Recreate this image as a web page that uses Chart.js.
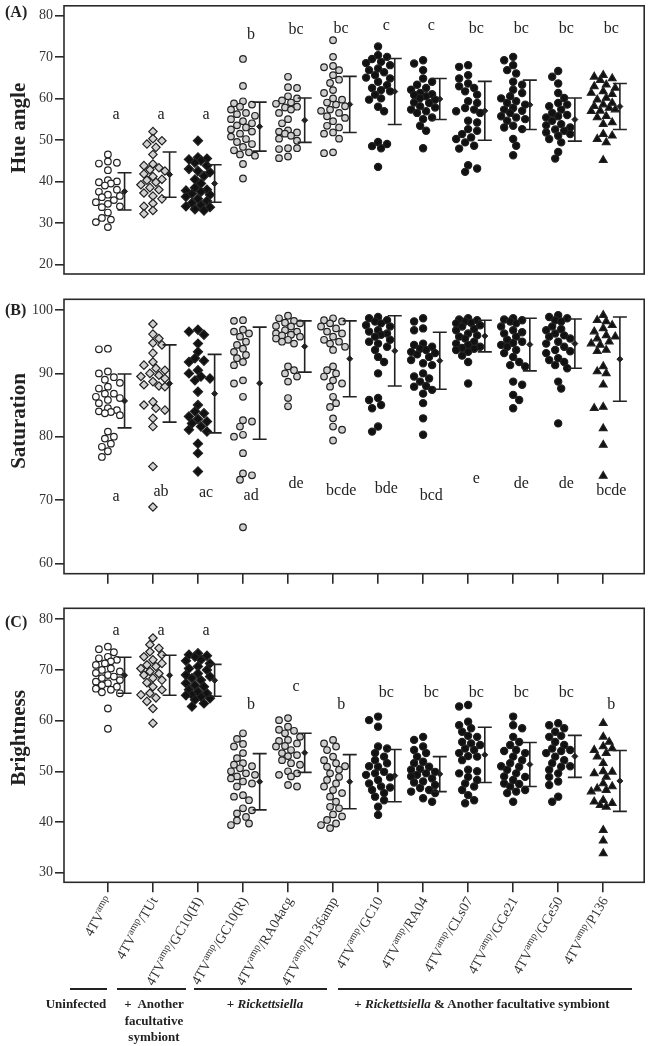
<!DOCTYPE html>
<html><head><meta charset="utf-8">
<script src="https://cdn.jsdelivr.net/npm/chart.js@4.4.0/dist/chart.umd.min.js"></script>
<style>
html,body{margin:0;padding:0;background:#fff;}
#wrap{position:relative;width:650px;height:1046px;overflow:hidden;font-family:"Liberation Serif","Times New Roman",serif;color:#222;}
canvas{position:absolute;left:0;}
.gl{position:absolute;height:0;border-top:2px solid #222;}
.gt{position:absolute;font-weight:bold;font-size:13px;text-align:center;line-height:16.5px;white-space:nowrap;}
</style></head><body>
<div id="wrap">
<canvas id="cA" width="650" height="290" style="top:0;width:650px;height:290px"></canvas>
<canvas id="cB" width="650" height="300" style="top:290px;width:650px;height:300px"></canvas>
<canvas id="cC" width="650" height="456" style="top:590px;width:650px;height:456px"></canvas>
<div class="gl" style="left:70px;width:37px;top:988px"></div>
<div class="gl" style="left:117px;width:69px;top:988px"></div>
<div class="gl" style="left:194px;width:133px;top:988px"></div>
<div class="gl" style="left:338px;width:294px;top:988px"></div>
<div class="gt" style="left:26px;width:100px;top:996px">Uninfected</div>
<div class="gt" style="left:104px;width:100px;top:996px">+&nbsp; Another<br>facultative<br>symbiont</div>
<div class="gt" style="left:185px;width:160px;top:996px">+ <i>Rickettsiella</i></div>
<div class="gt" style="left:332px;width:300px;top:996px">+ <i>Rickettsiella</i> &amp; Another facultative symbiont</div>
</div>
<script>
// ---------------- DATA ----------------
const categories = ['4TVamp','4TVamp/TUt','4TVamp/GC10(H)','4TVamp/GC10(R)','4TVamp/RA04acg','4TVamp/P136amp',
  '4TVamp/GC10','4TVamp/RA04','4TVamp/CLs07','4TVamp/GCe21','4TVamp/GCe50','4TVamp/P136'];
const labelSuffix = ['', '/TUt', '/GC10(H)', '/GC10(R)', '/RA04acg', '/P136amp', '/GC10', '/RA04', '/CLs07', '/GCe21', '/GCe50', '/P136'];

const hueAngle = [
  [46.5,44.8,44.5,44.3,42.7,40.3,40.0,39.8,39.5,39.0,38.0,37.5,36.8,36.5,36.2,35.5,35.0,34.6,34.0,33.8,32.5,31.2,30.8,30.2,29.0],
  [52.0,50.3,49.8,49.0,48.2,46.5,44.2,43.8,43.3,42.8,42.5,41.8,41.2,40.5,40.3,39.8,39.2,38.5,38.0,37.2,36.5,35.8,34.7,34.0,33.0,32.2],
  [49.8,45.8,45.5,45.3,45.0,44.5,43.8,43.0,42.5,42.2,41.3,40.5,39.5,38.5,38.0,37.8,37.5,37.0,36.8,36.3,35.8,35.3,34.8,34.3,34.0,33.8,33.3,33.0],
  [69.5,63.0,59.3,58.8,58.5,58.0,57.3,56.5,56.2,55.8,55.0,54.5,54.0,53.5,53.0,52.5,52.0,51.5,50.8,50.2,49.5,49.0,48.3,47.5,47.0,46.5,46.2,44.2,40.7],
  [65.2,62.7,62.5,60.5,60.0,59.5,59.0,58.7,58.0,57.8,57.3,56.5,55.0,54.0,52.3,52.0,51.8,51.5,51.0,50.3,49.8,48.0,48.0,47.8,46.0,45.6],
  [74.0,70.0,67.8,67.5,66.8,65.6,64.5,63.7,62.0,61.3,60.0,59.7,59.0,58.5,58.1,57.3,57.0,56.5,55.7,55.3,54.5,53.4,53.0,51.8,51.5,50.3,47.0,46.8],
  [72.5,70.4,70.0,69.5,68.8,68.5,68.0,67.2,66.8,66.3,65.6,65.0,64.8,64.0,63.2,62.5,62.0,61.7,60.9,60.0,59.7,58.0,56.9,49.5,49.0,48.5,48.0,43.5],
  [69.2,68.4,66.8,64.8,64.0,63.3,62.5,62.1,61.3,61.0,60.8,60.5,60.1,59.7,59.0,58.9,58.1,57.8,57.3,56.9,56.5,55.4,55.0,53.4,52.2,48.0],
  [68.0,67.6,65.6,64.8,63.6,62.9,62.5,61.7,60.9,59.3,58.9,57.7,57.3,56.9,56.5,54.6,54.2,52.6,52.2,51.4,50.6,50.2,49.4,48.6,47.9,43.9,43.1,42.3],
  [70.0,69.2,68.0,66.8,66.0,64.0,63.3,62.1,61.3,60.5,60.0,59.3,58.9,58.5,57.7,57.3,57.0,56.5,55.7,55.4,55.0,54.6,53.4,53.0,52.6,50.2,48.6,46.3],
  [66.6,65.2,63.6,61.3,60.1,58.9,58.5,58.1,57.3,56.5,56.0,55.7,55.4,54.6,53.8,53.5,53.0,52.5,52.2,51.8,51.4,51.0,50.2,49.4,47.1,45.5],
  [65.6,65.2,64.8,64.4,63.3,62.9,62.5,61.7,61.3,61.0,60.1,59.7,58.9,58.5,58.1,57.7,57.3,57.0,56.9,55.7,55.4,54.2,53.8,51.4,51.0,50.2,49.4,45.1]
];
const hueMean = [37.6,41.65,39.5,53.2,54.75,58.55,61.65,59.85,57.0,58.45,54.9,58.05];
const hueSD   = [4.5,5.45,4.5,5.9,5.35,6.75,7.95,4.95,7.1,5.95,5.2,5.55];
const hueLetters = ['a','a','a','b','bc','bc','c','c','bc','bc','bc','bc'];
const hueLetterAt = [56.0,56.0,56.0,75.2,76.5,76.8,77.5,77.5,76.8,76.8,76.8,76.8];
const hueTicks = [20,30,40,50,60,70,80];

const saturation = [
  [93.8,93.9,90.3,90.0,89.4,89.0,88.5,87.9,87.6,86.8,86.8,86.3,86.1,85.8,85.3,84.5,84.2,84.0,83.9,83.7,83.4,80.8,80.0,79.7,78.9,78.4,77.7,76.8],
  [97.8,96.2,95.5,94.8,94.5,93.2,91.8,91.3,90.8,90.5,90.0,89.7,89.5,89.2,88.7,88.2,88.0,87.9,85.5,85.0,84.5,84.2,82.9,81.6,75.3,68.9],
  [96.9,96.6,96.1,94.7,93.4,92.4,92.0,91.8,90.5,90.0,89.5,89.2,88.9,87.1,85.0,84.0,83.7,83.2,82.8,82.4,82.1,81.6,81.1,80.8,78.9,77.4,74.5],
  [98.4,98.3,96.9,96.6,96.3,95.8,95.0,94.5,93.9,93.4,92.9,92.4,91.8,91.3,88.9,88.4,86.3,82.6,82.4,81.6,80.3,80.0,77.4,74.2,73.9,73.2,65.7],
  [99.1,98.7,98.3,98.0,97.9,97.5,97.4,96.8,96.6,96.3,96.1,96.0,95.8,95.5,95.3,95.0,94.7,91.1,90.5,90.0,89.5,88.7,86.1,84.8],
  [98.7,98.4,98.2,97.9,97.4,97.1,96.6,96.3,95.8,95.3,95.0,94.7,94.2,93.7,91.1,90.5,90.0,89.5,88.9,88.4,87.9,86.3,85.3,84.7,82.9,81.6,81.1,79.4],
  [98.9,98.7,98.4,98.2,97.9,97.6,97.4,96.8,96.6,96.3,96.1,95.8,95.3,95.0,94.7,94.2,93.7,92.6,91.8,90.0,86.1,85.8,85.0,84.5,81.6,80.8],
  [98.7,98.2,97.1,96.8,94.7,94.5,94.2,93.9,93.7,93.4,93.2,93.0,92.6,92.1,91.6,91.3,90.0,89.5,89.2,88.7,88.0,87.9,87.4,86.8,85.3,82.9,80.3],
  [98.7,98.5,98.4,98.2,98.0,97.9,97.6,97.4,97.0,96.8,96.3,96.0,95.8,95.5,95.0,94.7,94.5,94.2,94.0,93.9,93.7,93.4,92.8,91.8,88.4],
  [98.7,98.5,98.4,98.2,97.9,97.4,96.8,96.5,96.3,95.8,95.3,95.0,94.8,94.5,94.2,93.7,93.2,92.6,91.8,91.3,91.1,88.7,88.2,86.6,85.8,84.5],
  [99.2,98.9,98.7,98.4,98.2,97.4,97.0,96.8,96.3,96.0,95.8,95.5,95.0,94.7,94.2,93.7,93.5,93.2,92.4,92.1,91.8,91.3,90.8,88.7,87.6,82.1],
  [99.2,98.4,98.2,97.6,97.1,96.6,96.0,95.8,95.5,95.0,94.7,94.5,93.7,93.5,91.1,90.3,90.0,88.2,84.7,84.5,81.3,78.7,73.8]
];
const satMean = [85.65,88.4,86.8,88.45,94.25,92.3,93.55,92.0,95.9,94.55,94.7,92.25];
const satSD   = [4.25,6.1,6.2,8.85,4.05,6.0,5.55,4.5,2.5,4.15,3.9,6.65];
const satLetters = ['a','ab','ac','ad','de','bcde','bde','bcd','e','de','de','bcde'];
const satLetterAt = [70.5,71.3,71.2,70.7,72.5,71.4,71.7,70.6,73.4,72.6,72.6,71.4];
const satTicks = [60,70,80,90,100];

const brightness = [
  [74.6,74.1,73.5,72.6,72.3,72.0,71.7,71.3,71.0,70.3,70.0,69.7,69.4,69.0,68.7,68.4,68.0,67.7,67.4,67.0,66.7,66.3,66.1,65.6,65.4,62.4,58.4],
  [76.3,75.0,74.3,73.6,73.0,72.6,72.0,71.3,71.0,70.7,70.3,69.7,69.3,69.0,68.4,68.0,67.5,66.7,66.1,65.4,65.1,64.5,63.8,62.4,59.5],
  [73.3,73.0,72.8,72.6,72.0,71.8,71.3,70.7,70.3,70.0,69.3,69.0,68.7,68.4,68.0,67.4,67.0,66.7,66.1,65.7,65.4,65.1,65.0,64.7,64.4,64.1,63.4,62.8],
  [57.5,56.4,55.4,54.9,53.6,52.6,51.6,51.3,51.0,50.6,50.0,49.6,49.3,49.0,48.6,48.0,47.6,47.0,45.3,45.0,44.3,42.7,42.3,41.7,41.0,40.3,39.7,39.4],
  [60.5,60.1,58.8,58.2,58.0,57.5,56.8,56.2,56.0,55.5,55.0,54.9,54.2,53.6,53.2,53.0,52.2,51.6,51.3,50.0,49.6,49.3,49.0,47.3,47.0],
  [56.2,55.5,54.9,54.2,52.9,52.2,51.6,51.0,50.9,50.3,49.6,48.9,48.3,47.6,47.0,46.3,45.7,45.0,44.0,43.0,42.7,41.5,41.1,40.4,39.7,39.4,38.8],
  [60.8,60.1,58.8,54.9,54.5,53.6,52.9,52.2,51.6,51.0,50.9,49.9,49.6,49.3,48.8,48.3,47.6,47.0,46.8,46.3,45.7,45.0,44.3,43.0,41.4],
  [56.8,56.2,54.9,54.2,53.6,52.9,51.9,51.6,50.9,50.5,50.3,49.9,49.6,49.3,49.0,48.6,48.0,47.8,47.3,46.7,46.3,46.0,45.7,44.7,44.0],
  [63.1,62.8,59.8,59.1,58.5,57.8,57.0,56.8,55.8,55.5,55.2,54.5,54.2,53.6,53.0,52.9,52.2,50.3,50.0,49.6,48.9,48.3,47.6,47.0,46.3,45.3,44.3,43.7],
  [60.8,59.1,58.5,56.8,55.8,55.2,54.2,54.0,53.6,52.9,52.2,51.6,51.0,50.9,50.3,49.6,49.0,48.9,48.3,47.6,47.5,47.0,46.3,46.0,45.7,44.0],
  [59.5,59.1,58.5,57.8,57.0,56.8,55.8,55.2,54.5,54.2,54.0,53.6,52.9,52.2,51.6,51.0,50.9,50.3,49.6,48.9,48.0,47.3,45.0,44.0],
  [59.5,56.8,55.8,54.9,54.5,54.2,53.6,52.9,51.6,50.0,49.9,49.6,48.9,47.6,47.0,46.6,46.3,46.0,44.3,44.0,43.7,43.3,43.0,38.4,36.3,33.8]
];
const briMean = [68.95,68.95,67.95,47.95,53.65,47.95,49.15,49.45,53.25,51.35,52.95,48.1];
const briSD   = [3.55,3.95,3.15,5.55,3.85,5.35,5.15,3.45,5.45,4.35,4.15,6.0];
const briLetters = ['a','a','a','b','c','b','bc','bc','bc','bc','bc','b'];
const briLetterAt = [77.8,77.8,77.8,63.1,66.7,63.1,65.4,65.4,65.4,65.4,65.4,63.1];
const briTicks = [30,40,50,60,70,80];

// ---------------- STYLE ----------------
const SERIF = '"Liberation Serif","Times New Roman",serif';
const INK = '#222';
const markerStyles = [
  {ps:'circle',   fill:'#ffffff', r:3.3},
  {ps:'rectRot',  fill:'#d2d2d2', r:4.2},
  {ps:'rectRot',  fill:'#111111', r:4.6},
  {ps:'circle',   fill:'#cfcfcf', r:3.3},
  {ps:'circle',   fill:'#cfcfcf', r:3.3},
  {ps:'circle',   fill:'#cfcfcf', r:3.3},
  {ps:'circle',   fill:'#111111', r:3.6},
  {ps:'circle',   fill:'#111111', r:3.6},
  {ps:'circle',   fill:'#111111', r:3.6},
  {ps:'circle',   fill:'#111111', r:3.6},
  {ps:'circle',   fill:'#111111', r:3.6},
  {ps:'triangle', fill:'#111111', r:4.5}
];
const BAR_SHIFT = 0.37;
const LETTER_SHIFT = 0.18;
const X_MIN = -0.975, X_MAX = 11.91;

const decor = {
  id: 'decor',
  afterDatasetsDraw(chart, args, o) {
    const {ctx} = chart;
    const xs = chart.scales.x, ys = chart.scales.y;
    ctx.save();
    ctx.strokeStyle = INK; ctx.lineWidth = 1.6;
    o.means.forEach((m, i) => {
      const x = xs.getPixelForValue(i + BAR_SHIFT);
      const y1 = ys.getPixelForValue(m + o.sds[i]);
      const y2 = ys.getPixelForValue(m - o.sds[i]);
      ctx.beginPath();
      ctx.moveTo(x, y1); ctx.lineTo(x, y2);
      ctx.moveTo(x - 7, y1); ctx.lineTo(x + 7, y1);
      ctx.moveTo(x - 7, y2); ctx.lineTo(x + 7, y2);
      ctx.stroke();
    });
    ctx.fillStyle = INK;
    ctx.font = '16px ' + SERIF;
    ctx.textAlign = 'center'; ctx.textBaseline = 'middle';
    o.letters.forEach((t, i) => {
      ctx.fillText(t, xs.getPixelForValue(i + LETTER_SHIFT), ys.getPixelForValue(o.letterAt[i]));
    });
    ctx.restore();
  },
  afterDraw(chart, args, o) {
    const {ctx, chartArea: ca} = chart;
    ctx.save();
    ctx.strokeStyle = '#2a2a2a'; ctx.lineWidth = 1.6;
    ctx.strokeRect(ca.left, ca.top, ca.right - ca.left, ca.bottom - ca.top);
    ctx.fillStyle = INK;
    // panel label
    ctx.font = 'bold 16px ' + SERIF;
    ctx.textAlign = 'left'; ctx.textBaseline = 'middle';
    ctx.fillText(o.panel, 5, o.panelY);
    // y title
    ctx.save();
    ctx.translate(20, o.titleY);
    ctx.rotate(-Math.PI / 2);
    ctx.font = 'bold 21px ' + SERIF;
    ctx.textAlign = 'center'; ctx.textBaseline = 'middle';
    ctx.fillText(o.title, 0, 0);
    ctx.restore();
    // category labels
    if (o.catLabels) {
      const xs = chart.scales.x;
      categories.forEach((c, i) => {
        const x = xs.getPixelForValue(i);
        ctx.save();
        ctx.translate(x + 2, ca.bottom + 16);
        ctx.rotate(-Math.PI / 3);
        ctx.textBaseline = 'middle'; ctx.textAlign = 'left';
        ctx.fillStyle = '#333';
        ctx.font = '14px ' + SERIF; const w1 = ctx.measureText('4TV').width;
        const w3 = ctx.measureText(labelSuffix[i]).width;
        ctx.font = '10px ' + SERIF; const w2 = ctx.measureText('amp').width;
        let s = -(w1 + w2 + w3);
        ctx.font = '14px ' + SERIF; ctx.fillText('4TV', s, 0); s += w1;
        ctx.font = '10px ' + SERIF; ctx.fillText('amp', s, -4); s += w2;
        ctx.font = '14px ' + SERIF; ctx.fillText(labelSuffix[i], s, 0);
        ctx.restore();
      });
    }
    ctx.restore();
  }
};

function makeChart(id, values, means, sds, letters, letterAt, yTicks, yMin, yMax, pad, xHeight, showXTicks, deco) {
  const datasets = values.map((vals, i) => ({
    data: vals.map(v => ({x: i, y: v})),
    pointStyle: markerStyles[i].ps,
    pointRadius: markerStyles[i].r,
    pointBackgroundColor: markerStyles[i].fill,
    pointBorderColor: INK,
    pointBorderWidth: 1.2,
    showLine: false
  }));
  datasets.push({
    data: means.map((m, i) => ({x: i + BAR_SHIFT, y: m})),
    pointStyle: 'rectRot', pointRadius: 3, pointBackgroundColor: INK, pointBorderColor: INK, pointBorderWidth: 1, showLine: false
  });
  const chart = new Chart(document.getElementById(id), {
    type: 'scatter',
    data: {datasets},
    options: {
      responsive: false, animation: false, devicePixelRatio: 1,
      layout: {padding: {top: pad, right: 5, left: 0, bottom: 0}},
      plugins: {legend: {display: false}, tooltip: {enabled: false},
        decor: Object.assign({means, sds, letters, letterAt}, deco)},
      scales: {
        x: {
          type: 'linear', min: X_MIN, max: X_MAX,
          afterBuildTicks: s => { s.ticks = categories.map((c, i) => ({value: i})); },
          ticks: {display: false},
          grid: {display: showXTicks, drawOnChartArea: false, drawTicks: true, tickLength: 10, tickColor: '#2a2a2a', lineWidth: 1.6},
          border: {display: false},
          afterFit: s => { s.height = xHeight; s.paddingLeft = 0; s.paddingRight = 0; }
        },
        y: {
          min: yMin, max: yMax,
          afterBuildTicks: s => { s.ticks = yTicks.map(v => ({value: v})); },
          ticks: {font: {family: SERIF, size: 14}, color: '#333', padding: 2},
          grid: {drawOnChartArea: false, drawTicks: true, tickLength: 9, tickColor: '#2a2a2a', lineWidth: 1.6},
          border: {display: false},
          afterFit: s => { s.width = 64; s.paddingTop = 0; s.paddingBottom = 0; }
        }
      }
    },
    plugins: [decor]
  });
  swarm(chart, values);
  return chart;
}

// beeswarm layout of points around each category centre (pixel space)
function swarm(chart, values) {
  const xs = chart.scales.x, ys = chart.scales.y;
  const unit = xs.getPixelForValue(1) - xs.getPixelForValue(0);
  const CANDS = [0, 3, -3, 6, -6, 9, -9, 12, -12];
  const MIN_D = 7;
  values.forEach((vals, i) => {
    const placed = [];
    const offs = new Array(vals.length).fill(0);
    const order = vals.map((v, k) => k).sort((a, b) => vals[b] - vals[a]);
    order.forEach((k, j) => {
      const py = ys.getPixelForValue(vals[k]);
      const cands = (j % 2) ? CANDS.map(c => -c) : CANDS;
      let best = 0, bestD = -1;
      for (const c of cands) {
        let dmin = Infinity;
        for (const p of placed) { const d = Math.hypot(p[0] - c, p[1] - py); if (d < dmin) dmin = d; }
        if (dmin >= MIN_D) { best = c; bestD = dmin; break; }
        if (dmin > bestD) { bestD = dmin; best = c; }
      }
      placed.push([best, py]);
      offs[k] = best;
    });
    chart.data.datasets[i].data = vals.map((v, k) => ({x: i + offs[k] / unit, y: v}));
  });
  chart.update('none');
}

makeChart('cA', hueAngle, hueMean, hueSD, hueLetters, hueLetterAt, hueTicks, 17.7, 82.3, 1.5, 16, false,
  {panel: '(A)', panelY: 12.5, title: 'Hue angle', titleY: 128, catLabels: false});
makeChart('cB', saturation, satMean, satSD, satLetters, satLetterAt, satTicks, 58.36, 101.7, 9.3, 16.3, true,
  {panel: '(B)', panelY: 20.7, title: 'Saturation', titleY: 131, catLabels: false});
makeChart('cC', brightness, briMean, briSD, briLetters, briLetterAt, briTicks, 28.1, 82.17, 18.3, 163.7, true,
  {panel: '(C)', panelY: 32.7, title: 'Brightness', titleY: 148, catLabels: true});
</script>
</body></html>
